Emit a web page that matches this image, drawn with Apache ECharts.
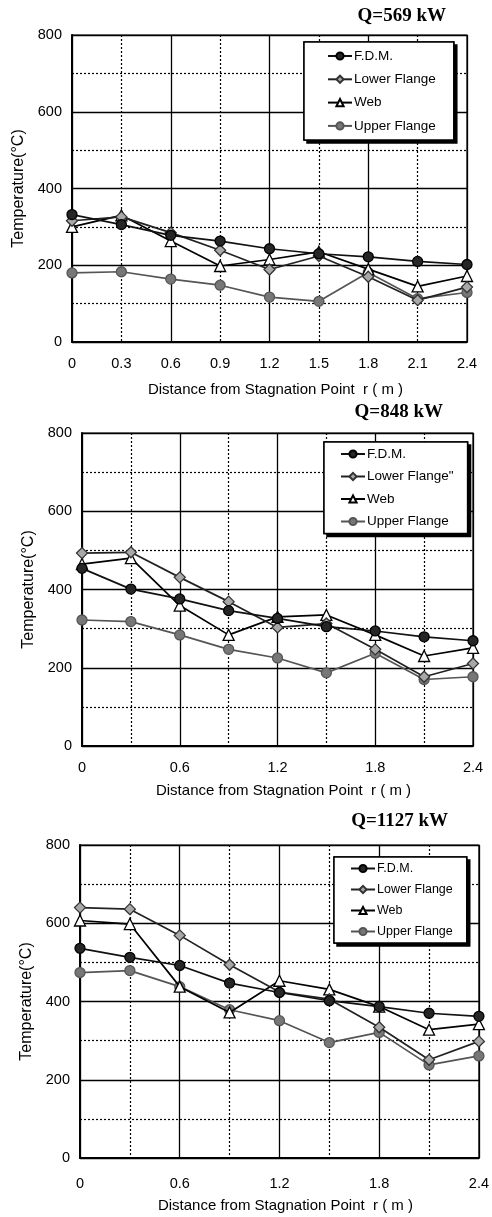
<!DOCTYPE html>
<html>
<head>
<meta charset="utf-8">
<script src="https://cdn.jsdelivr.net/npm/echarts@6/dist/echarts.min.js"></script>
<style>
html,body{margin:0;padding:0;background:#fff;}
#c{width:492px;height:1217px;}
</style>
</head>
<body>
<div id="c"></div>
<script>
// ---- data ----
const distances = [0, 0.3, 0.6, 0.9, 1.2, 1.5, 1.8, 2.1, 2.4];
const seriesNames1 = ['F.D.M.', 'Lower Flange', 'Web', 'Upper Flange'];
const seriesNames2 = ['F.D.M.', 'Lower Flange"', 'Web', 'Upper Flange'];
const titles = ['Q=569 kW', 'Q=848 kW', 'Q=1127 kW'];
const xTicks1 = ['0', '0.3', '0.6', '0.9', '1.2', '1.5', '1.8', '2.1', '2.4'];
const xTicks2 = ['0', '0.6', '1.2', '1.8', '2.4'];
const yTicks = ['0', '200', '400', '600', '800'];

// Q = 569 kW
const q569_fdm   = [332, 306, 278, 263, 243, 230, 222, 210, 202];
const q569_lower = [316, 326, 285, 239, 189, 224, 170, 109, 143];
const q569_web   = [300, 330, 263, 198, 215, 235, 190, 145, 172];
const q569_upper = [180, 183, 164, 148, 117, 106, 181, 113, 129];

// Q = 848 kW
const q848_fdm   = [454, 401, 376, 346, 326, 305, 294, 279, 269];
const q848_lower = [493, 495, 431, 369, 303, 313, 247, 177, 211];
const q848_web   = [465, 480, 359, 284, 330, 335, 284, 230, 251];
const q848_upper = [322, 318, 284, 247, 225, 187, 237, 170, 177];

// Q = 1127 kW
const q1127_fdm   = [536, 513, 492, 447, 423, 402, 387, 370, 362];
const q1127_lower = [640, 636, 569, 494, 424, 406, 334, 251, 298];
const q1127_web   = [607, 598, 438, 372, 453, 431, 387, 328, 342];
const q1127_upper = [474, 479, 438, 379, 351, 295, 321, 238, 261];

const panels = [
  {title: titles[0], names: seriesNames1, data: [q569_fdm, q569_lower, q569_web, q569_upper], ticks: xTicks1},
  {title: titles[1], names: seriesNames2, data: [q848_fdm, q848_lower, q848_web, q848_upper], ticks: xTicks2},
  {title: titles[2], names: seriesNames1, data: [q1127_fdm, q1127_lower, q1127_web, q1127_upper], ticks: xTicks2}
];

// ---- layout / style ----
const SANS = '"Liberation Sans", Arial, sans-serif';
const SERIF = '"Liberation Serif", "Times New Roman", serif';
const layout = [
  {grid: {left: 72, top: 35, width: 395, height: 307}, title: {right: 46, top: 7},
   legend: {left: 304, top: 42, padding: [7, 18, 7, 23], itemGap: 9.3, font: 13.5},
   ylMargin: 10, xlMargin: 14, xNameGap: 40, yNameGap: 44},
  {grid: {left: 82, top: 433, width: 391, height: 313}, title: {right: 49, top: 403},
   legend: {left: 324, top: 442, padding: [5, 14, 5, 16], itemGap: 8.5, font: 13.5},
   ylMargin: 10, xlMargin: 14, xNameGap: 37, yNameGap: 40},
  {grid: {left: 80, top: 845, width: 399, height: 313}, title: {right: 44, top: 812},
   legend: {left: 334, top: 857, padding: [5, 14, 5, 16], itemGap: 8, font: 12.5},
   ylMargin: 10, xlMargin: 18, xNameGap: 40, yNameGap: 38}
];

const styles = [
  {symbol: 'circle', size: 10, fill: '#262626', border: '#000', line: '#111', lw: 1.7},
  {symbol: 'diamond', size: 11, fill: '#a8a8a8', border: '#333', line: '#222', lw: 1.7},
  {symbol: 'triangle', size: 11, fill: '#fff', border: '#000', line: '#000', lw: 1.7},
  {symbol: 'circle', size: 10, fill: '#777', border: '#555', line: '#555', lw: 1.7}
];

const option = {
  animation: false,
  backgroundColor: '#fff',
  title: [], grid: [], xAxis: [], yAxis: [], legend: [], series: []
};

panels.forEach((p, i) => {
  const L = layout[i];
  option.grid.push(Object.assign({show: true, borderColor: '#000', borderWidth: 1.2, backgroundColor: 'transparent'}, L.grid));
  option.title.push({
    text: p.title, right: L.title.right, top: L.title.top, padding: 0,
    textStyle: {fontFamily: SERIF, fontWeight: 'bold', fontSize: 19, color: '#000'}
  });
  const step = (i === 0) ? 0.3 : 0.6;
  option.xAxis.push({
    type: 'value', gridIndex: i, min: 0, max: 2.4, interval: 0.6,
    name: 'Distance from Stagnation Point  r ( m )', nameLocation: 'middle', nameGap: L.xNameGap,
    nameTextStyle: {fontFamily: SANS, fontSize: 15, color: '#000', padding: [0, 0, 0, 12]},
    axisLine: {show: true, lineStyle: {color: '#000', width: 2}},
    axisTick: {show: false},
    axisLabel: {show: i !== 0, margin: L.xlMargin, fontFamily: SANS, fontSize: 14.5, color: '#000',
      formatter: v => { const k = Math.round(v / 0.6); return p.ticks[k] !== undefined ? p.ticks[k] : ''; }},
    splitLine: {show: true, lineStyle: {color: '#000', width: 1.3, type: 'solid'}},
    minorTick: {show: false, splitNumber: 2},
    minorSplitLine: {show: true, lineStyle: {color: '#000', width: 1.2, type: [2, 2]}}
  });
  if (i === 0) {
    option.xAxis.push({
      type: 'value', gridIndex: i, min: 0, max: 2.4, interval: step, position: 'bottom',
      axisLine: {show: false}, axisTick: {show: false}, splitLine: {show: false},
      axisLabel: {show: true, margin: L.xlMargin, fontFamily: SANS, fontSize: 14.5, color: '#000',
        formatter: v => { const k = Math.round(v / 0.3); return p.ticks[k] !== undefined ? p.ticks[k] : ''; }}
    });
  }
  option.yAxis.push({
    type: 'value', gridIndex: i, min: 0, max: 800, interval: 200,
    name: 'Temperature(°C)', nameLocation: 'middle', nameGap: L.yNameGap, nameRotate: 90,
    nameTextStyle: {fontFamily: SANS, fontSize: 16, color: '#000'},
    axisLine: {show: true, lineStyle: {color: '#000', width: 2}},
    axisTick: {show: false},
    axisLabel: {margin: L.ylMargin, fontFamily: SANS, fontSize: 14.5, color: '#000',
      formatter: v => yTicks[Math.round(v / 200)]},
    splitLine: {show: true, lineStyle: {color: '#000', width: 1.3}},
    minorTick: {show: false, splitNumber: 2},
    minorSplitLine: {show: true, lineStyle: {color: '#000', width: 1.2, type: [2, 2]}}
  });
  const xIdx = (i === 0) ? 0 : i + 1;
  p.names.forEach((name, s) => {
    const st = styles[s];
    option.series.push({
      type: 'line', name: name, xAxisIndex: xIdx, yAxisIndex: i,
      data: distances.map((d, k) => [d, p.data[s][k]]),
      symbol: st.symbol, symbolSize: st.size, showAllSymbol: true,
      lineStyle: {color: st.line, width: st.lw},
      itemStyle: {color: st.fill, borderColor: st.border, borderWidth: 1.3},
      z: 10 - s
    });
  });
  const legendBase = {
    orient: 'vertical', left: L.legend.left, top: L.legend.top, padding: L.legend.padding,
    itemGap: L.legend.itemGap, itemWidth: 24, itemHeight: 9,
    data: p.names,
    backgroundColor: '#fff', borderColor: '#000', borderWidth: 1.5,
    textStyle: {fontFamily: SANS, fontSize: L.legend.font, color: '#000', padding: [0, 0, 0, -3]},
    selectedMode: false
  };
  option.legend.push(Object.assign({}, legendBase, {
    shadowColor: '#000', shadowBlur: 0, shadowOffsetX: 3, shadowOffsetY: 3, z: 20
  }));
  option.legend.push(Object.assign({}, legendBase, {z: 21}));
});

const chart = echarts.init(document.getElementById('c'), null, {renderer: 'canvas'});
chart.setOption(option);
</script>
</body>
</html>
